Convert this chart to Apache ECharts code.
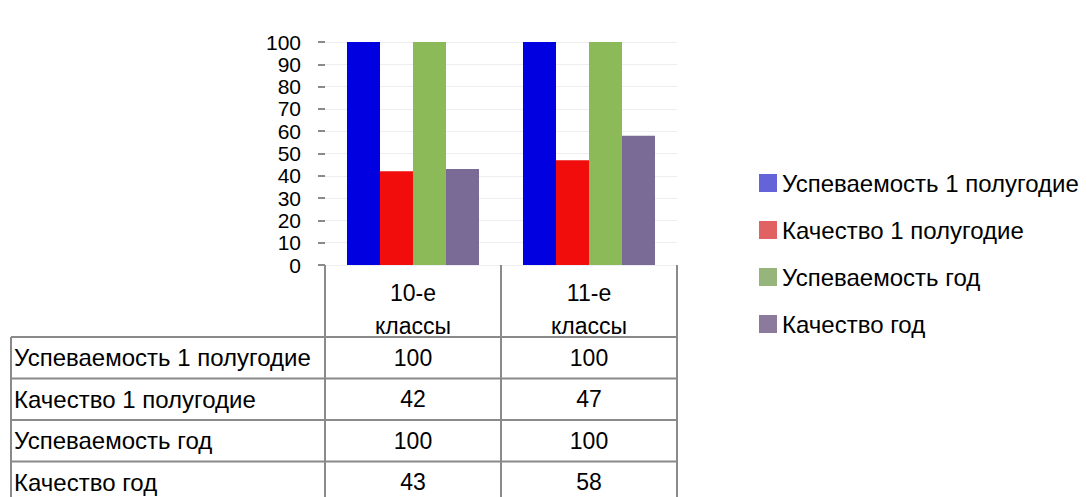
<!DOCTYPE html>
<html>
<head>
<meta charset="utf-8">
<script src="https://cdn.jsdelivr.net/npm/echarts@6/dist/echarts.min.js"></script>
<style>
html,body{margin:0;padding:0;background:#fff;}
#chart{width:1087px;height:497px;}
</style>
</head>
<body>
<div id="chart"></div>
<script>
var categories = ['10-е\nклассы', '11-е\nклассы'];
var seriesNames = ['Успеваемость 1 полугодие', 'Качество 1 полугодие', 'Успеваемость год', 'Качество год'];
var uspev1 = [100, 100];
var kach1 = [42, 47];
var uspevGod = [100, 100];
var kachGod = [43, 58];
var yTicks = [0, 10, 20, 30, 40, 50, 60, 70, 80, 90, 100];

var seriesData = [uspev1, kach1, uspevGod, kachGod];
var barColors = ['#0000e0', '#f20d0d', '#8cba58', '#7a6a96'];
var legendColors = ['#6464d8', '#e06262', '#95b57a', '#8c7a9c'];
var FONT = 'Liberation Sans';

var chart = echarts.init(document.getElementById('chart'), null, {renderer: 'svg'});

var option = {
  backgroundColor: '#ffffff',
  animation: false,
  textStyle: {fontFamily: FONT, color: '#000'},
  grid: {left: 325, right: 410, top: 42, bottom: 232, containLabel: false},
  legend: {
    orient: 'vertical',
    left: 754,
    top: 166,
    itemWidth: 18,
    itemHeight: 18,
    itemGap: 23,
    icon: 'rect',
    textStyle: {fontFamily: FONT, fontSize: 24, color: '#000'},
    data: seriesNames.map(function (n, i) { return {name: n, itemStyle: {color: legendColors[i]}}; })
  },
  xAxis: {
    type: 'category',
    data: categories,
    axisLine: {show: false},
    axisTick: {show: true, length: 240, alignWithLabel: false, lineStyle: {color: '#8a8a8a', width: 2}},
    axisLabel: {fontFamily: FONT, fontSize: 23, color: '#000', lineHeight: 33, margin: 11, interval: 0}
  },
  yAxis: {
    type: 'value',
    min: 0, max: 100, interval: 10,
    axisLine: {show: false},
    axisTick: {show: true, length: 7, lineStyle: {color: '#8a8a8a', width: 2}},
    axisLabel: {fontFamily: FONT, fontSize: 21, lineHeight: 21, color: '#000', margin: 24,
      showMinLabel: true, showMaxLabel: true, hideOverlap: false,
      formatter: function (v) { return yTicks.indexOf(v) >= 0 ? String(v) : ''; }},
    splitLine: {show: true, lineStyle: {color: '#eeeef2'}}
  },
  series: seriesNames.map(function (n, i) {
    return {
      name: n, type: 'bar', data: seriesData[i],
      barWidth: 33, barGap: '0%',
      itemStyle: {color: barColors[i]}
    };
  })
};
chart.setOption(option);

// Data table built from the same arrays, aligned to the category axis bands
var c0 = chart.convertToPixel({xAxisIndex: 0}, 0);
var c1 = chart.convertToPixel({xAxisIndex: 0}, 1);
var band = c1 - c0;
var colEdges = [11, c0 - band / 2, c0 + band / 2, c1 + band / 2];
var rowTop = 337, rowH = 41.5;
var g = [];
var lineStyle = {stroke: '#8a8a8a', lineWidth: 2};
for (var r = 0; r <= seriesNames.length; r++) {
  var y = rowTop + r * rowH;
  g.push({type: 'line', shape: {x1: colEdges[0], y1: y, x2: colEdges[3], y2: y}, style: lineStyle, silent: true});
}
g.push({type: 'line', shape: {x1: colEdges[0], y1: rowTop, x2: colEdges[0], y2: 497}, style: lineStyle, silent: true});
seriesNames.forEach(function (n, r) {
  var yc = rowTop + r * rowH + rowH / 2;
  g.push({type: 'text', x: 14, y: yc, style: {text: n, fontFamily: FONT, fontSize: 24, fill: '#000', verticalAlign: 'middle', align: 'left'}, silent: true});
  seriesData[r].forEach(function (v, ci) {
    g.push({type: 'text', x: (colEdges[ci + 1] + colEdges[ci + 2]) / 2, y: yc,
      style: {text: String(v), fontFamily: FONT, fontSize: 23, fill: '#000', verticalAlign: 'middle', align: 'center'}, silent: true});
  });
});
chart.setOption({graphic: g});
</script>
</body>
</html>
